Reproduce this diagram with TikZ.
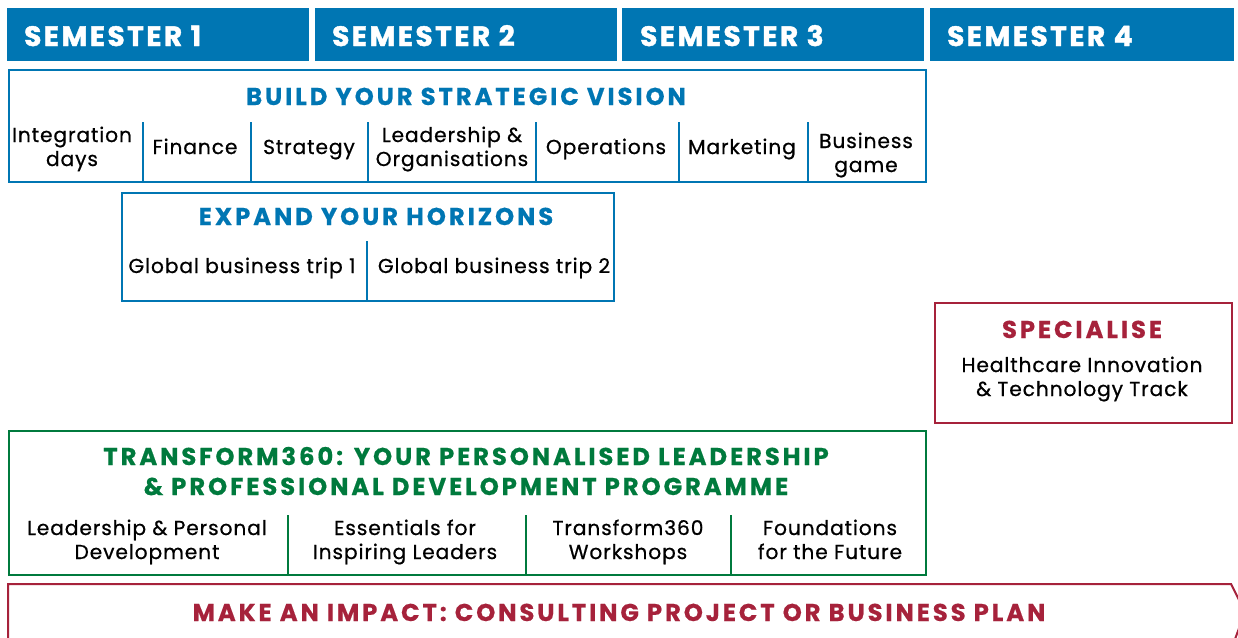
\documentclass[tikz,border=0pt]{standalone}
\usepackage{fontspec}
\setmainfont{Poppins}
\newfontfamily\semfont[LetterSpace=9,BoldFeatures={FakeBold=1.5}]{Poppins}
\newfontfamily\hfont[LetterSpace=12,BoldFeatures={FakeBold=0.5}]{Poppins}
\newfontfamily\bfont[LetterSpace=4.5,FakeBold=0.7]{Poppins}
\definecolor{sblue}{HTML}{0076B3}
\definecolor{sgreen}{HTML}{007A3D}
\definecolor{scrim}{HTML}{A6223B}
\begin{document}
\begin{tikzpicture}[x=1pt,y=-1pt,
  sembar/.style={fill=sblue,draw=none,inner sep=0pt,minimum width=302pt,minimum height=53pt,anchor=north west},
  semtxt/.style={text=white,font=\semfont\bfseries\fontsize{28}{30}\selectfont,anchor=base west,inner sep=0pt},
  box/.style={draw=#1,line width=2pt,inner sep=0pt,anchor=north west},
  ttl/.style={text=#1,font=\hfont\bfseries\fontsize{24.3}{30}\selectfont,anchor=base,inner sep=0pt,align=center},
  item/.style={font=\bfont\fontsize{20.2}{24}\selectfont,anchor=base,inner sep=0pt,align=center},
  sep/.style={draw=#1,line width=2pt}]
\clip (0,0) rectangle (1238,637);
\fill[white] (0,0) rectangle (1238,637);
% semester bars
\node[sembar] (s1) at (7,8) {};
\node[sembar] (s2) at (315,8) {};
\node[sembar] (s3) at (622,8) {};
\node[sembar,minimum width=304pt] (s4) at (930,8) {};
\node[semtxt] (t1) at (24,46) {SEMESTER 1};
\node[semtxt] (t2) at (332,46) {SEMESTER 2};
\node[semtxt] (t3) at (640,46) {SEMESTER 3};
\node[semtxt] (t4) at (947,46) {SEMESTER 4};
% build
\node[box=sblue,minimum width=917pt,minimum height=112pt] (build) at (8,69) {};
\node[ttl=sblue] (buildt) at (466,105) {BUILD YOUR STRATEGIC VISION};
\foreach \x in {143,251,368,536,679,808}{\draw[sep=sblue] (\x,122) -- (\x,181);}
\node[item] (i1) at (72,166) {Integration\\days};
\node[item] (i2) at (195,154) {Finance};
\node[item] (i3) at (309,154) {Strategy};
\node[item] (i4) at (452,166) {Leadership \&\\Organisations};
\node[item] (i5) at (606,154) {Operations};
\node[item] (i6) at (742,154) {Marketing};
\node[item] (i7) at (866,172) {Business\\game};
% expand
\node[box=sblue,minimum width=492pt,minimum height=108pt] (exp) at (121,192) {};
\node[ttl=sblue] (expt) at (376,225) {EXPAND YOUR HORIZONS};
\draw[sep=sblue] (367,241) -- (367,300);
\node[item] (g1) at (242,273) {Global business trip 1};
\node[item] (g2) at (494,273) {Global business trip 2};
% specialise
\node[box=scrim,minimum width=297pt,minimum height=120pt] (spec) at (934,302) {};
\node[ttl=scrim] (spect) at (1082,338) {SPECIALISE};
\node[item] (spi) at (1082,396) {Healthcare Innovation\\\& Technology Track};
% transform
\node[box=sgreen,minimum width=917pt,minimum height=144pt] (tr) at (8,430) {};
\node[ttl=sgreen] (trt) at (466,495) {TRANSFORM360: YOUR PERSONALISED LEADERSHIP\\\& PROFESSIONAL DEVELOPMENT PROGRAMME};
\foreach \x in {288,526,731}{\draw[sep=sgreen] (\x,515) -- (\x,574);}
\node[item] (k1) at (147,559) {Leadership \& Personal\\Development};
\node[item] (k2) at (405,559) {Essentials for\\Inspiring Leaders};
\node[item] (k3) at (628,559) {Transform360\\Workshops};
\node[item] (k4) at (830,559) {Foundations\\for the Future};
% impact
\draw[draw=scrim,line width=2pt] (8,650) -- (8,584) -- (1231,584) -- (1245,612) -- (1231,650);
\node[ttl=scrim] (imp) at (619,621) {MAKE AN IMPACT: CONSULTING PROJECT OR BUSINESS PLAN};
\end{tikzpicture}
\end{document}
